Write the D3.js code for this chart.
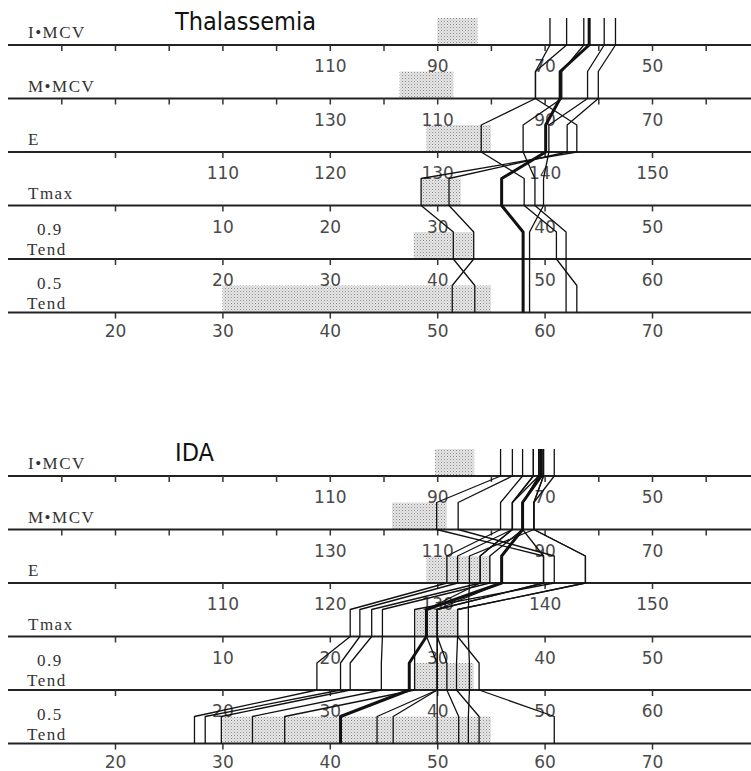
<!DOCTYPE html>
<html>
<head>
<meta charset="utf-8">
<script src="https://cdn.jsdelivr.net/npm/d3@7"></script>
<style>
  body { margin: 0; background: #fff; }
  .tick text { font-family: "DejaVu Sans"; font-size: 17px; fill: #4a4a4a; }
  .rowname { font-family: "Liberation Serif"; font-size: 17px; fill: #333; letter-spacing: 1.5px; }
  .title { font-family: "DejaVu Sans Condensed", "DejaVu Sans"; font-size: 25px; fill: #111; }
</style>
</head>
<body>
<div id="chart"></div>
<script>
// row names, top to bottom
const rowNames = [["I•MCV"], ["M•MCV"], ["E"], ["Tmax"], ["0.9", "Tend"], ["0.5", "Tend"]];

// each baseline's scale: the two labelled end values, every tick, and the labelled ticks
const axisDomains = [[110, 50], [130, 70], [110, 150], [10, 50], [20, 60], [20, 70]];
const tickValues = [
  [160, 150, 140, 130, 120, 110, 100, 90, 80, 70, 60, 50, 40],
  [180, 170, 160, 150, 140, 130, 120, 110, 100, 90, 80, 70, 60],
  [100, 110, 120, 130, 140, 150],
  [0, 10, 20, 30, 40, 50],
  [10, 20, 30, 40, 50, 60],
  [20, 30, 40, 50, 60, 70]
];
const tickLabels = [
  [110, 90, 70, 50],
  [130, 110, 90, 70],
  [110, 120, 130, 140, 150],
  [10, 20, 30, 40, 50],
  [20, 30, 40, 50, 60],
  [20, 30, 40, 50, 60, 70]
];

// normal ranges (shaded boxes), one pair per baseline
const thalNormal = [[90, 82.5], [117, 107], [129, 135], [28.5, 32.2], [37.8, 43.4], [30, 55]];
const idaNormal = [[90.4, 83.1], [118.4, 108.2], [129, 135], [28, 31.8], [37.8, 43.4], [30, 55]];

// patients: value on each of the 6 baselines
const thalValues = [
  [69.0, 91.7, 134.1, 38.1, 51.1, 63.0],
  [65.9, 91.7, 143.0, 28.5, 41.5, 53.5],
  [61.7, 87.1, 140.1, 36.0, 48.0, 58.0],
  [62.7, 86.8, 138.0, 39.1, 52.0, 62.0],
  [58.9, 82.0, 140.4, 39.9, 48.6, 58.6],
  [56.8, 80.0, 142.1, 31.1, 43.4, 51.4]
];
const thalThick = [false, false, true, false, false, false];

const idaValues = [
  [78.2, 110.1, 139.9, 30.0, 40.0, 50.0],
  [76.0, 106.1, 140.9, 27.9, 37.9, 35.8],
  [74.1, 98.2, 130.9, 21.9, 28.8, 27.4],
  [72.1, 96.0, 131.9, 22.8, 31.0, 28.4],
  [71.1, 96.0, 134.0, 23.9, 31.9, 29.9],
  [70.6, 94.1, 136.0, 29.0, 37.4, 41.0],
  [71.0, 94.1, 134.9, 24.9, 34.8, 32.8],
  [70.2, 92.0, 133.0, 32.9, 43.0, 52.9],
  [68.2, 92.0, 143.8, 31.9, 41.8, 53.9],
  [70.2, 92.0, 143.8, 31.9, 43.9, 60.9],
  [70.7, 94.1, 139.9, 30.0, 40.9, 52.0],
  [71.1, 94.1, 136.0, 30.0, 40.0, 44.4],
  [72.1, 96.0, 134.0, 29.0, 40.0, 45.9]
];
const idaThick = [false, false, false, false, false, true, false, false, false, false, false, false, false];

const width = 751;
const height = 771;
const band = 53.5;
const half = 27;

const svg = d3.select("#chart")
  .append("svg")
  .attr("width", width)
  .attr("height", height)

// stipple for the normal range boxes
const pat = svg.append("defs").append("pattern")
  .attr("id", "dots")
  .attr("width", 3)
  .attr("height", 3)
  .attr("patternUnits", "userSpaceOnUse")
pat.append("rect").attr("width", 3).attr("height", 3).attr("fill", "#e6e6e6")
pat.append("rect").attr("width", 1).attr("height", 1).attr("fill", "#8a8a8a")
pat.append("rect").attr("x", 1.5).attr("y", 1.5).attr("width", 1).attr("height", 1).attr("fill", "#b4b4b4")

// pixel ranges that the end values of each domain map to
const axisRanges = [[329.8, 652], [329.8, 652], [222.4, 652], [222.4, 652], [222.4, 652], [115, 652]];
const scales = axisDomains.map((d, i) => d3.scaleLinear().domain(d).range(axisRanges[i]))

function drawPanel(title, top, normal, values, thick) {
  const g = svg.append("g")
  const yBase = d3.range(6).map(i => top + i * band)

  g.append("text")
    .attr("class", "title")
    .attr("x", 175)
    .attr("y", top - 15)
    .text(title)

  // normal range boxes
  g.selectAll("rect.normal")
    .data(normal)
    .join("rect")
    .attr("class", "normal")
    .attr("x", (d, i) => Math.min(scales[i](d[0]), scales[i](d[1])))
    .attr("width", (d, i) => Math.abs(scales[i](d[1]) - scales[i](d[0])))
    .attr("y", (d, i) => yBase[i] - half)
    .attr("height", half)
    .attr("fill", "url(#dots)")

  // baselines with their ticks
  yBase.forEach((y, i) => {
    g.append("line")
      .attr("x1", 8).attr("x2", width)
      .attr("y1", y).attr("y2", y)
      .attr("stroke", "#222")
      .attr("stroke-width", 1.8)

    const axis = d3.axisBottom(scales[i])
      .tickValues(tickValues[i])
      .tickSize(6)
      .tickPadding(i == 5 ? 6 : 9)
      .tickFormat(v => tickLabels[i].includes(v) ? v : "")
    const ag = g.append("g")
      .attr("transform", `translate(0,${y})`)
      .call(axis)
    ag.select(".domain").remove()
    ag.selectAll(".tick line").attr("stroke", "#333").attr("stroke-width", 1.5)
    ag.selectAll(".tick text").attr("font-family", null).attr("font-size", null).attr("fill", null)

    const names = rowNames[i]
    const nameX = names.length > 1 ? [37, 27] : [28]
    const nameY = names.length > 1 ? [-24, -4] : [-7]
    g.selectAll(null)
      .data(names)
      .join("text")
      .attr("class", "rowname")
      .attr("x", (d, k) => nameX[k])
      .attr("y", (d, k) => y + nameY[k])
      .text(d => d)
  })

  // each patient: vertical stub above each baseline, diagonal between rows
  const line = d3.line()
  const paths = values.map(v => {
    const pts = []
    v.forEach((val, i) => {
      const x = scales[i](val)
      pts.push([x, yBase[i] - half])
      pts.push([x, yBase[i]])
    })
    return pts
  })

  g.selectAll("path.patient")
    .data(paths)
    .join("path")
    .attr("class", "patient")
    .attr("d", d => line(d))
    .attr("fill", "none")
    .attr("stroke", "#111")
    .attr("stroke-width", (d, i) => thick[i] ? 3 : 1.3)
    .attr("stroke-linejoin", "round")
}

drawPanel("Thalassemia", 45, thalNormal, thalValues, thalThick)
drawPanel("IDA", 476, idaNormal, idaValues, idaThick)
</script>
</body>
</html>
